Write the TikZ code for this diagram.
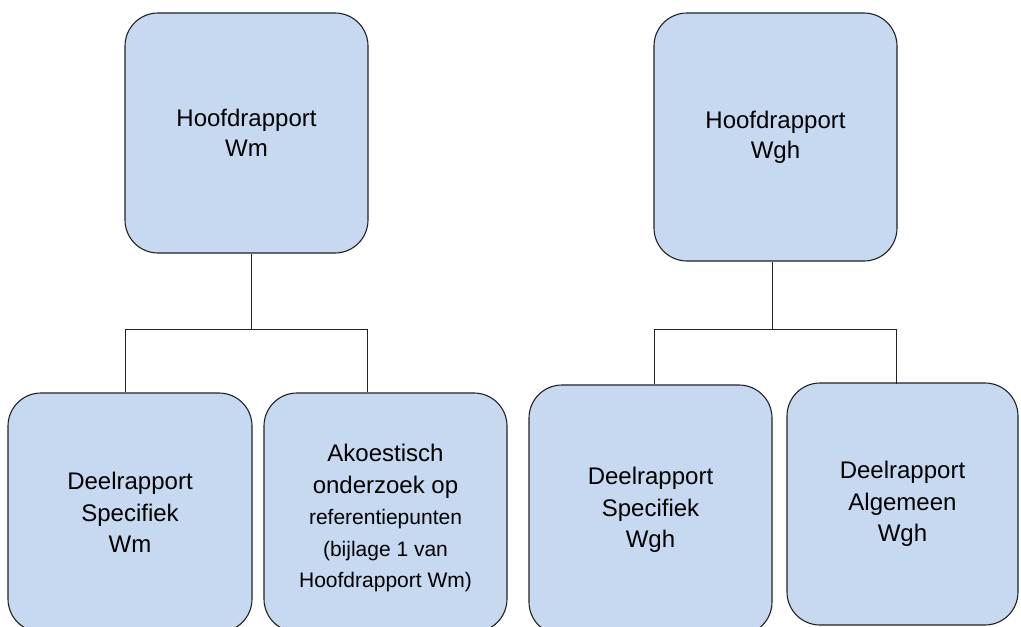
\documentclass[tikz,border=0pt]{standalone}
\usepackage{fontspec}
\setmainfont{Liberation Sans}
\definecolor{boxfill}{RGB}{198,217,241}
\definecolor{inkline}{RGB}{34,34,34}
\newcommand{\smalltxt}{\fontsize{21}{31.5}\selectfont}
\begin{document}
\begin{tikzpicture}[x=1pt,y=-1pt,
  report/.style={draw=inkline, line width=1.1pt, fill=boxfill,
    rounded corners=33pt, rectangle, inner sep=0pt, align=center,
    text=black},
  toptext/.style={font=\fontsize{24}{30}\selectfont},
  subtext/.style={font=\fontsize{24}{31.5}\selectfont},
  link/.style={draw=inkline, line width=1pt}]
\clip (0,0) rectangle (1021,627);
\fill[white] (0,0) rectangle (1021,627);

% main reports
\node[report, toptext, minimum width=243pt, minimum height=240pt]
  (hwm) at (246.5,133) {Hoofdrapport\\Wm};
\node[report, toptext, minimum width=243pt, minimum height=248pt]
  (hwgh) at (775.5,137) {Hoofdrapport\\Wgh};

% partial reports
\node[report, subtext, minimum width=244pt, minimum height=239pt]
  (dswm) at (130,512.5) {Deelrapport\\Specifiek\\Wm};
\node[report, subtext, minimum width=243pt, minimum height=239pt]
  (akoe) at (385.5,512.5) {\rule{0pt}{29pt}Akoestisch\\onderzoek op\\
  \smalltxt referentiepunten\\\smalltxt (bijlage 1 van\\\smalltxt Hoofdrapport Wm)};
\node[report, subtext, minimum width=243pt, minimum height=250pt]
  (dswgh) at (650.5,510) {Deelrapport\\Specifiek\\Wgh};
\node[report, subtext, minimum width=231pt, minimum height=242pt]
  (dawgh) at (902.5,504) {Deelrapport\\Algemeen\\Wgh};

% bus junctions
\coordinate (jl) at (251.7,329.3);
\coordinate (jl1) at (125,329.3);
\coordinate (jl2) at (367.7,329.3);
\coordinate (jr) at (772.7,329.3);
\coordinate (jr1) at (654.3,329.3);
\coordinate (jr2) at (896.7,329.3);

% left tree
\draw[link] (hwm.south -| jl) -- (jl);
\draw[link] (dswm.north -| jl1) -- (jl1) -- (jl2) -- (akoe.north -| jl2);

% right tree
\draw[link] (hwgh.south -| jr) -- (jr);
\draw[link] (dswgh.north -| jr1) -- (jr1) -- (jr2) -- ([yshift=-2pt]dawgh.north -| jr2);
\end{tikzpicture}
\end{document}
